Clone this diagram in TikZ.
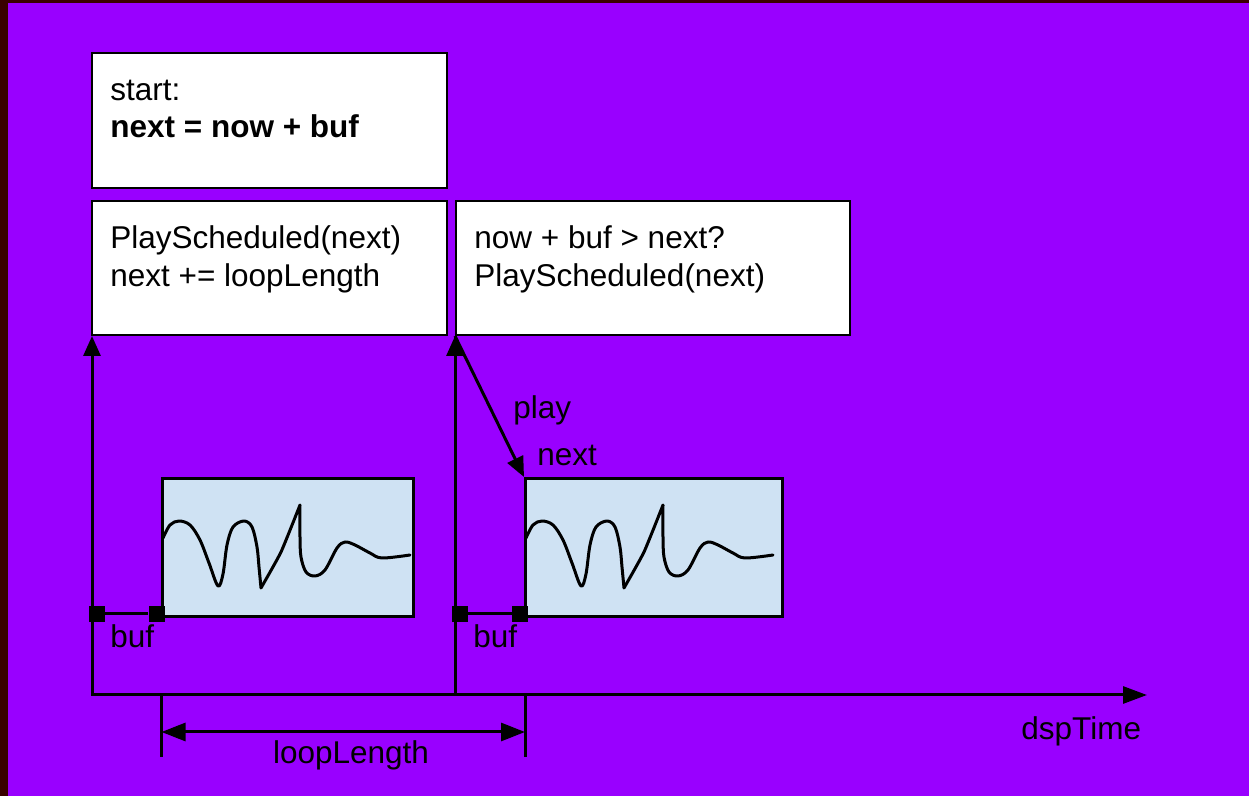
\documentclass[tikz,border=0pt]{standalone}
\usepackage{fontspec}
\setmainfont{Liberation Sans}
\usetikzlibrary{arrows.meta,calc}
\definecolor{bgpurple}{HTML}{9900FF}
\definecolor{bgdark}{RGB}{58,0,0}
\definecolor{wavefill}{HTML}{CFE2F3}
\newcommand\wavecurve{%
  \draw[line width=1.5pt, line join=round, line cap=round]
    plot[smooth,tension=0.55] coordinates {(2,61) (9,48) (18,44) (29,48) (39,63) (48,86) (57,109) (62,97) (66,68) (72,50) (83,44) (91,50) (96,70) (98,90) (100,111)}
    -- plot[smooth,tension=0.3] coordinates {(100,111) (120,75) (139,28)}
    -- plot[smooth,tension=0.55] coordinates {(139,28) (139,60) (140,80) (145,95) (154,99) (164,93) (176,71) (184,65) (194,68) (209,76) (221,81) (249,78)};%
}
\begin{document}
\begin{tikzpicture}[x=0.5pt,y=-0.5pt,
  txt/.style={font=\fontsize{15.75}{19}\selectfont, inner sep=0, anchor=base west},
  codebox/.style={draw=black, line width=1pt, fill=white, anchor=north west, inner sep=0},
  wavebox/.style={draw=black, line width=1.5pt, fill=wavefill, anchor=north west, inner sep=0},
  conn/.style={line width=1.5pt},
  arr/.style={conn, -{Triangle[length=10pt,width=8.5pt]}},
  sq/.style={fill=black, minimum size=8pt, inner sep=0},
]
\useasboundingbox (0,0) rectangle (1249,796);
\fill[bgdark] (0,0) rectangle (1249,796);
\fill[bgpurple] (8,3) rectangle (1249,796);

% code boxes
\node[codebox, minimum width=177.5pt, minimum height=67.5pt] (start) at (91,52) {};
\node[codebox, minimum width=177.5pt, minimum height=67pt] (loop) at (91,200) {};
\node[codebox, minimum width=197pt, minimum height=67pt] (check) at (455,200) {};

\node[txt] (s1) at (110,101) {start:};
\node[txt, font=\fontsize{15.75}{19}\selectfont\bfseries] (s2) at (110,138) {next = now + buf};
\node[txt] (l1) at (110,249) {PlayScheduled(next)};
\node[txt] (l2) at (110,287) {next += loopLength};
\node[txt] (c1) at (474,249) {now + buf > next?};
\node[txt] (c2) at (474,287) {PlayScheduled(next)};

% wave boxes
\node[wavebox, minimum width=125.5pt, minimum height=69pt] (w1) at (161,477) {};
\node[wavebox, minimum width=128.5pt, minimum height=69pt] (w2) at (524,477) {};
\begin{scope}[shift={(w1.north west)}]\wavecurve\end{scope}
\begin{scope}[shift={(w2.north west)}]\wavecurve\end{scope}

% axis
\coordinate (o) at (92,695);
\coordinate (o2) at (455,695);
\coordinate (axend) at (1147,695);
\draw[conn, -{Triangle[length=12pt,width=8.5pt]}] (91,695) -- (axend);
\draw[arr] (o) -- (o |- loop.south);
\draw[arr] (o2) -- (check.south west);
\draw[arr] (check.south west) -- (w2.north west);

% buf markers
\node[sq] (b1a) at (96.5,614) {};
\node[sq] (b1b) at (156.5,614) {};
\node[sq] (b2a) at (460,614) {};
\node[sq] (b2b) at (520,614) {};
\draw[conn] (b1a) -- (b1b);
\draw[conn] (b2a) -- (b2b);

% dimension loopLength
\coordinate (d1) at (161.5,757);
\coordinate (d2) at (525,757);
\draw[conn] (d1 |- o) -- (d1);
\draw[conn] (d2 |- o) -- (d2);
\coordinate (m1) at (161.5,732);
\coordinate (m2) at (525,732);
\draw[conn, {Triangle[length=12pt,width=9pt]}-{Triangle[length=12pt,width=9pt]}] (m1) -- (m2);

% labels
\node[txt] (play) at (513,419) {play};
\node[txt] (nextlbl) at (537,466) {next};
\node[txt] (buf1) at (110,648) {buf};
\node[txt] (buf2) at (473,648) {buf};
\node[txt] (dsp) at (1021,740) {dspTime};
\node[txt, anchor=base] (ll) at (351,763) {loopLength};
\end{tikzpicture}
\end{document}
